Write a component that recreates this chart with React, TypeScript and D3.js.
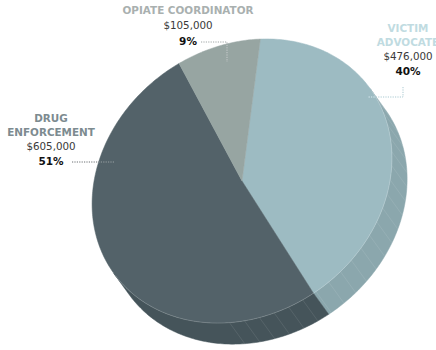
import React from "react";
import * as d3 from "d3";

// ---- data ----
const categories = ["VICTIM ADVOCATE", "DRUG ENFORCEMENT", "OPIATE COORDINATOR"];
const titleLines = [["VICTIM", "ADVOCATE"], ["DRUG", "ENFORCEMENT"], ["OPIATE COORDINATOR"]];
const amounts = [476000, 605000, 105000];

// ---- style ----
const topColors = ["#9dbbc2", "#536269", "#97a5a2"];
const sideColors = ["#8ba7ad", "#45545a", "#86928f"];
const titleColors = ["#c0dbe1", "#7d8b90", "#a9b0af"];
const leaderOut = ["#a9c9d1", "#6a6f72", "#a0a6a6"];
const leaderIn = ["#d6e6ea", "#8d9ba0", "#c4cccb"];

const W = 436, H = 350;
const cx = 242, cy = 181, ra = 158, rb = 133;
const phi = (-35.8 * Math.PI) / 180;
const depth = 26;
const START = (-51.7 * Math.PI) / 180;
const ux = Math.cos(phi), uy = Math.sin(phi);
const vx = -Math.sin(phi), vy = Math.cos(phi);

function pt(t: number, off = 0): [number, number] {
  return [
    cx + ra * Math.cos(t) * ux + rb * Math.sin(t) * vx + off * vx,
    cy + ra * Math.cos(t) * uy + rb * Math.sin(t) * vy + off * vy,
  ];
}
function samples(t0: number, t1: number, off = 0): [number, number][] {
  const n = Math.max(2, Math.ceil(Math.abs(t1 - t0) / 0.015));
  return d3.range(n + 1).map((i) => pt(t0 + ((t1 - t0) * i) / n, off));
}
const line = d3.line<[number, number]>();

// label layout (annotation positions)
const labelX = [408, 51, 188];
const labelY = [[32, 46, 60, 75], [122, 136, 150, 165], [14, 29, 45]];
const leaders: [number, number][][] = [
  [[403, 87], [403, 97], [368, 97]],
  [[72, 162], [114, 162]],
  [[201, 42], [227, 42], [227, 62]],
];

export default function App() {
  const total = d3.sum(amounts);
  const arcs = d3.pie<number>().sort(null).startAngle(START).endAngle(START + 2 * Math.PI)(amounts);
  const fmt = d3.format("$,");

  const sides = arcs.map((a, i) => {
    const s = Math.max(a.startAngle, 0);
    const e = Math.min(a.endAngle, Math.PI);
    if (e <= s) return null;
    const pts = [...samples(s, e, 0), ...samples(e, s, depth)];
    const stripes = d3.range(Math.ceil(s / 0.1) * 0.1, e, 0.1).filter((t) => t < 2.3).map((t) => [pt(t, 0), pt(t, depth)] as [number, number][]);
    return { i, d: line(pts) + "Z", stripes };
  });

  const tops = arcs.map((a, i) => {
    const pts: [number, number][] = [[cx, cy], ...samples(a.startAngle, a.endAngle, 0)];
    return { i, d: line(pts) + "Z" };
  });

  const ellipse = line(samples(0, 2 * Math.PI, 0)) + "Z";
  const rimFront = line(samples(0.02, Math.PI - 0.02, 0));

  const textFont = "DejaVu Sans, sans-serif";

  return (
    <svg width={W} height={H} viewBox={`0 0 ${W} ${H}`} style={{ position: "absolute", left: 0, top: 0, background: "#fff" }}>
      <defs>
        <clipPath id="topClip">
          <path d={ellipse} />
        </clipPath>
      </defs>
      {sides.map((s) =>
        s ? (
          <g key={"s" + s.i}>
            <path d={s.d} fill={sideColors[s.i]} stroke={sideColors[s.i]} strokeWidth={0.5} />
            {s.stripes.map((st, k) => (
              <path key={k} d={line(st) || ""} stroke="#ffffff" strokeOpacity={0.13} strokeWidth={0.7} />
            ))}
          </g>
        ) : null
      )}
      {tops.map((t) => (
        <path key={"t" + t.i} d={t.d} fill={topColors[t.i]} stroke={topColors[t.i]} strokeWidth={0.5} />
      ))}
      <path d={rimFront || ""} fill="none" stroke="#ffffff" strokeOpacity={0.22} strokeWidth={0.8} />

      {leaders.map((l, i) => (
        <g key={"l" + i}>
          <path d={line(l) || ""} fill="none" stroke={leaderOut[i]} strokeWidth={1} strokeDasharray="1.2,1.2" />
          <path d={line(l) || ""} fill="none" stroke={leaderIn[i]} strokeWidth={1} strokeDasharray="1.2,1.2" clipPath="url(#topClip)" />
        </g>
      ))}

      {categories.map((c, i) => {
        const ys = labelY[i];
        const lines = titleLines[i];
        return (
          <g key={c} textAnchor="middle" fontFamily={textFont}>
            {lines.map((ln, k) => (
              <text key={k} x={labelX[i]} y={ys[k]} fontSize={10.4} fontWeight="bold" fill={titleColors[i]}>
                {ln}
              </text>
            ))}
            <text x={labelX[i]} y={ys[lines.length]} fontSize={10.3} fill="#3a3a3a">
              {fmt(amounts[i])}
            </text>
            <text x={labelX[i]} y={ys[lines.length + 1]} fontSize={10.5} fontWeight="bold" fill="#111">
              {Math.round((amounts[i] / total) * 100) + "%"}
            </text>
          </g>
        );
      })}
    </svg>
  );
}
